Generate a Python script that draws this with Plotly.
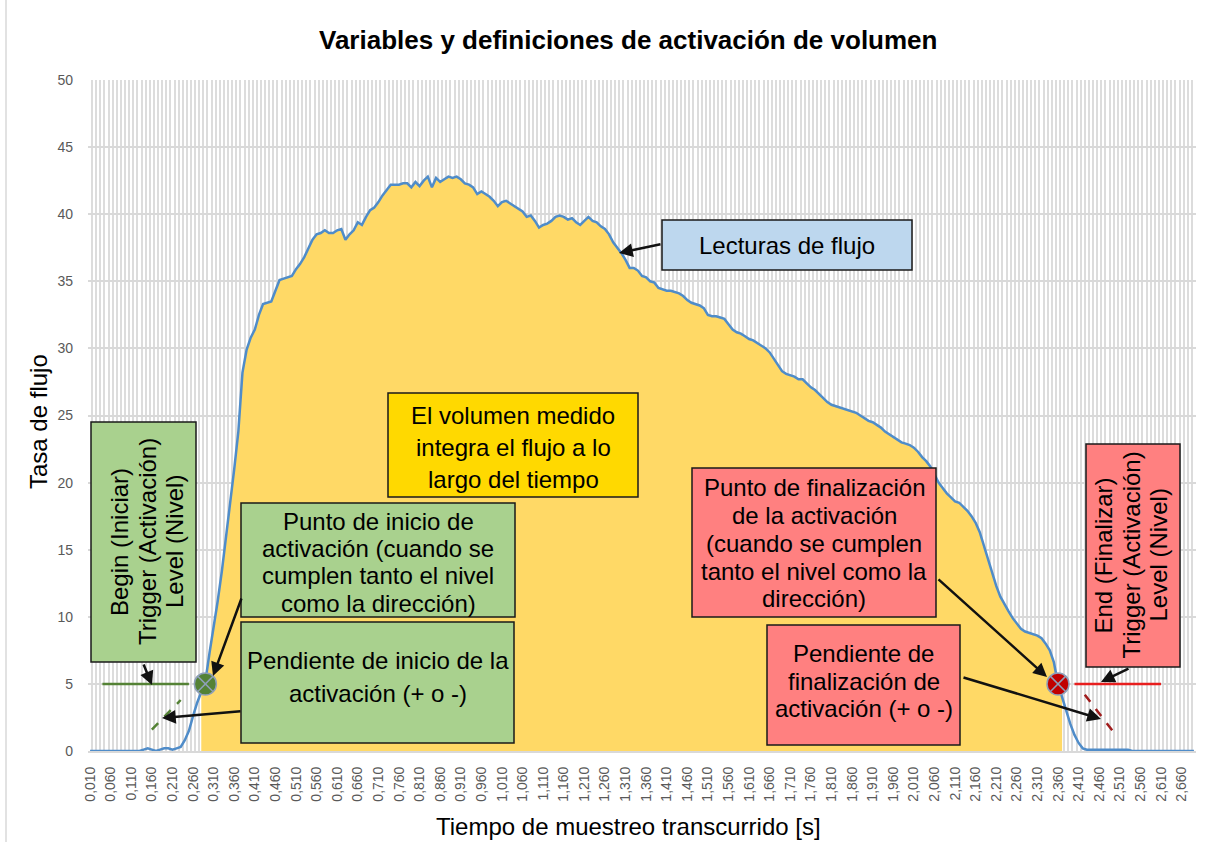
import plotly.graph_objects as go

# ---- data -------------------------------------------------------------
# sample times (s), one reading every 10 ms
time_s = [round(0.01 * k, 2) for k in range(1, 270)]

# flow-rate readings, one per sample
flow = [
    0.0, 0.0, 0.0, 0.0, 0.0, 0.0, 0.0, 0.0, 0.0, 0.0,          # 0.01-0.10
    0.0, 0.0, 0.0, 0.1, 0.2, 0.1, 0.0, 0.1, 0.2, 0.2,          # 0.11-0.20
    0.1, 0.2, 0.3, 0.8, 1.5, 2.6, 3.6, 4.4, 5.2, 7.3,          # 0.21-0.30
    9.2, 11.2, 13.4, 15.8, 18.4, 21.0, 23.8, 28.2, 29.9, 30.8,  # 0.31-0.40
    31.4, 32.5, 33.3, 33.4, 33.5, 34.3, 35.1, 35.2, 35.3, 35.4,  # 0.41-0.50
    35.9, 36.3, 36.8, 37.4, 38.1, 38.5, 38.6, 38.8, 38.6, 38.6,  # 0.51-0.60
    38.8, 38.9, 38.1, 38.5, 38.8, 39.4, 39.2, 39.8, 40.3, 40.5,  # 0.61-0.70
    40.9, 41.4, 41.8, 42.2, 42.2, 42.2, 42.3, 42.3, 42.0, 42.4,  # 0.71-0.80
    42.1, 42.5, 42.8, 42.0, 42.7, 42.4, 42.6, 42.8, 42.7, 42.8,  # 0.81-0.90
    42.6, 42.3, 42.2, 42.0, 41.5, 41.7, 41.5, 41.3, 41.0, 40.6,  # 0.91-1.00
    40.9, 41.0, 40.8, 40.6, 40.4, 40.2, 39.8, 39.9, 39.5, 39.0,  # 1.01-1.10
    39.2, 39.3, 39.5, 39.8, 39.9, 39.8, 39.6, 39.7, 39.4, 39.2,  # 1.11-1.20
    39.5, 39.8, 39.5, 39.4, 39.1, 38.9, 38.5, 37.9, 37.5, 37.1,  # 1.21-1.30
    36.6, 36.0, 36.0, 35.8, 35.4, 35.3, 35.0, 34.9, 34.5, 34.4,  # 1.31-1.40
    34.3, 34.3, 34.2, 34.1, 33.9, 33.6, 33.4, 33.3, 33.2, 33.0,  # 1.41-1.50
    32.5, 32.4, 32.4, 32.3, 32.2, 31.8, 31.4, 31.2, 31.1, 30.9,  # 1.51-1.60
    30.7, 30.6, 30.4, 30.2, 30.0, 29.7, 29.2, 28.7, 28.3, 28.1,  # 1.61-1.70
    28.0, 27.9, 27.7, 27.7, 27.4, 27.1, 26.9, 26.6, 26.3, 26.0,  # 1.71-1.80
    25.8, 25.7, 25.6, 25.5, 25.4, 25.3, 25.2, 25.0, 24.8, 24.6,  # 1.81-1.90
    24.5, 24.3, 24.1, 23.8, 23.6, 23.4, 23.2, 23.0, 22.9, 22.8,  # 1.91-2.00
    22.6, 22.3, 21.9, 21.6, 21.2, 20.6, 20.0, 19.6, 19.2, 18.9,  # 2.01-2.10
    18.6, 18.5, 18.2, 17.9, 17.5, 17.0, 16.3, 15.3, 14.2, 13.2,  # 2.11-2.20
    12.3, 11.5, 10.9, 10.4, 9.9, 9.5, 9.1, 8.9, 8.8, 8.7,        # 2.21-2.30
    8.6, 8.4, 8.0, 7.5, 6.6, 5.0, 4.0, 3.0, 2.0, 1.2,            # 2.31-2.40
    0.6, 0.2, 0.1, 0.1, 0.1, 0.1, 0.1, 0.1, 0.1, 0.1,            # 2.41-2.50
    0.1, 0.1, 0.1, 0.0, 0.0, 0.0, 0.0, 0.0, 0.0, 0.0,            # 2.51-2.60
    0.0, 0.0, 0.0, 0.0, 0.0, 0.0, 0.0, 0.0, 0.0,                 # 2.61-2.69
]

# every fifth sample is labelled on the time axis
tick_times = time_s[::5]
tick_labels = [f"{t:.3f}".replace(".", ",") for t in tick_times]
y_ticks = [0, 5, 10, 15, 20, 25, 30, 35, 40, 45, 50]

# integration window and trigger settings
window_start, window_end = 0.28, 2.37
trigger_level = 5
begin_time, end_time = 0.29, 2.36
begin_level_span = [0.04, 0.25]
end_level_span = [2.40, 2.61]
begin_slope_t, begin_slope_y = [0.16, 0.23], [1.6, 3.8]
end_slope_t, end_slope_y = [2.425, 2.50], [4.2, 1.2]

# ---- layout helpers ---------------------------------------------------
FONT = "Arial, 'Liberation Sans', sans-serif"
W, H = 1212, 842
ML, MR, MT, MB = 88, 16, 80, 91
PW, PH = W - ML - MR, H - MT - MB


def px(x):
    return (x - ML) / PW


def py(y):
    return (H - MB - y) / PH


shapes = []
annotations = []


def box(x0, y0, x1, y1, fill, lines, centers, rotated=False):
    shapes.append(dict(type="rect", xref="paper", yref="paper",
                       x0=px(x0), x1=px(x1), y0=py(y1), y1=py(y0),
                       fillcolor=fill, line=dict(color="#1a1a1a", width=1.5),
                       layer="above"))
    for text, c in zip(lines, centers):
        if rotated:
            ax_, ay_ = c, (y0 + y1) / 2
        else:
            ax_, ay_ = (x0 + x1) / 2, c
        annotations.append(dict(xref="paper", yref="paper", x=px(ax_), y=py(ay_),
                                text=text, showarrow=False, xanchor="center",
                                yanchor="middle", textangle=-90 if rotated else 0,
                                font=dict(family=FONT, size=24, color="#000000")))


def arrow(tx, ty, hx, hy):
    annotations.append(dict(xref="paper", yref="paper", x=px(hx), y=py(hy),
                            ax=tx - hx, ay=ty - hy, text="", showarrow=True,
                            arrowhead=2, arrowsize=1.1, arrowwidth=2.5,
                            arrowcolor="#111111", standoff=0, startstandoff=0))


# ---- traces -----------------------------------------------------------
i0 = time_s.index(window_start)
i1 = time_s.index(window_end)

fig = go.Figure()
fig.add_trace(go.Scatter(x=time_s[i0:i1 + 1], y=flow[i0:i1 + 1], mode="none",
                         fill="tozeroy", fillcolor="#ffd966", hoverinfo="skip"))
fig.add_trace(go.Scatter(x=time_s, y=flow, mode="lines",
                         line=dict(color="#4f8cc9", width=2.5)))
fig.add_trace(go.Scatter(x=begin_level_span, y=[trigger_level] * 2, mode="lines",
                         line=dict(color="#548235", width=2.5)))
fig.add_trace(go.Scatter(x=end_level_span, y=[trigger_level] * 2, mode="lines",
                         line=dict(color="#e81e1e", width=2.5)))
fig.add_trace(go.Scatter(x=begin_slope_t, y=begin_slope_y, mode="lines",
                         line=dict(color="#548235", width=2.5, dash="dash")))
fig.add_trace(go.Scatter(x=end_slope_t, y=end_slope_y, mode="lines",
                         line=dict(color="#a01c1c", width=2.5, dash="dash")))
fig.add_trace(go.Scatter(x=[begin_time], y=[trigger_level], mode="markers",
                         marker=dict(symbol="circle-x", size=22, color="#548235",
                                     line=dict(color="#8e9fb8", width=1.5))))
fig.add_trace(go.Scatter(x=[end_time], y=[trigger_level], mode="markers",
                         marker=dict(symbol="circle-x", size=22, color="#c00000",
                                     line=dict(color="#8e9fb8", width=1.5))))

# ---- callout boxes ----------------------------------------------------
GREEN, RED, BLUE, YELLOW = "#a9d18e", "#ff8080", "#bdd7ee", "#ffd900"

box(662, 220, 912, 270, BLUE, ["Lecturas de flujo"], [245])
box(388, 393, 638, 497, YELLOW,
    ["El volumen medido", "integra el flujo a lo", "largo del tiempo"],
    [415, 447, 479])
box(241, 503, 515, 617, GREEN,
    ["Punto de inicio de", "activación (cuando se", "cumplen tanto el nivel",
     "como la dirección)"], [521, 548, 575, 603])
box(241, 622, 514, 743, GREEN,
    ["Pendiente de inicio de la", "activación (+ o -)"], [660, 693])
box(91, 422, 196, 662, GREEN,
    ["Begin (Iniciar)", "Trigger (Activación)", "Level (Nivel)"],
    [119, 147, 174], rotated=True)
box(692, 468, 936, 617, RED,
    ["Punto de finalización", "de la activación", "(cuando se cumplen",
     "tanto el nivel como la", "dirección)"], [487, 515, 543, 571, 598])
box(767, 625, 960, 745, RED,
    ["Pendiente de", "finalización de", "activación (+ o -)"], [653, 681, 708])
box(1086, 444, 1180, 667, RED,
    ["End (Finalizar)", "Trigger (Activación)", "Level (Nivel)"],
    [1103, 1131, 1158], rotated=True)

arrow(662, 244, 619, 253)
arrow(242, 597, 213, 676)
arrow(242, 711, 162, 718)
arrow(143, 663, 152, 685)
arrow(937, 578, 1047, 677)
arrow(962, 677, 1101, 719)
arrow(1130, 668, 1101, 682)

# ---- titles -----------------------------------------------------------
annotations.append(dict(xref="paper", yref="paper", x=px(628), y=py(40),
                        text="<b>Variables y definiciones de activación de volumen</b>",
                        showarrow=False, xanchor="center", yanchor="middle",
                        font=dict(family=FONT, size=26, color="#000000")))
annotations.append(dict(xref="paper", yref="paper", x=px(628), y=py(826),
                        text="Tiempo de muestreo transcurrido [s]",
                        showarrow=False, xanchor="center", yanchor="middle",
                        font=dict(family=FONT, size=24, color="#000000")))
annotations.append(dict(xref="paper", yref="paper", x=px(38), y=py(422),
                        text="Tasa de flujo", textangle=-90,
                        showarrow=False, xanchor="center", yanchor="middle",
                        font=dict(family=FONT, size=24, color="#000000")))

# thin chart-frame edge on the left
shapes.append(dict(type="line", xref="paper", yref="paper",
                   x0=px(6), x1=px(6), y0=py(0), y1=py(H),
                   line=dict(color="#d9d9d9", width=1.5), layer="below"))

fig.update_layout(
    width=W, height=H,
    margin=dict(l=ML, r=MR, t=MT, b=MB),
    paper_bgcolor="white", plot_bgcolor="white",
    showlegend=False,
    shapes=shapes, annotations=annotations,
    xaxis=dict(range=[0.005, 2.695], tickmode="array", tickvals=tick_times,
               ticktext=tick_labels, tickangle=-90, showgrid=False,
               zeroline=False, showline=True, linecolor="#d9d9d9", linewidth=2,
               ticks="", ticklabelstandoff=8,
               tickfont=dict(family=FONT, size=14, color="#595959"),
               minor=dict(tickmode="linear", tick0=0.005, dtick=0.01,
                          showgrid=True, gridcolor="#dcdcdc", gridwidth=2)),
    yaxis=dict(range=[0, 50], tickmode="array", tickvals=y_ticks,
               showgrid=True, gridcolor="#d9d9d9", gridwidth=2, zeroline=False,
               ticks="", ticklabelstandoff=14,
               tickfont=dict(family=FONT, size=14, color="#595959")),
)

fig.write_html("out.html")
